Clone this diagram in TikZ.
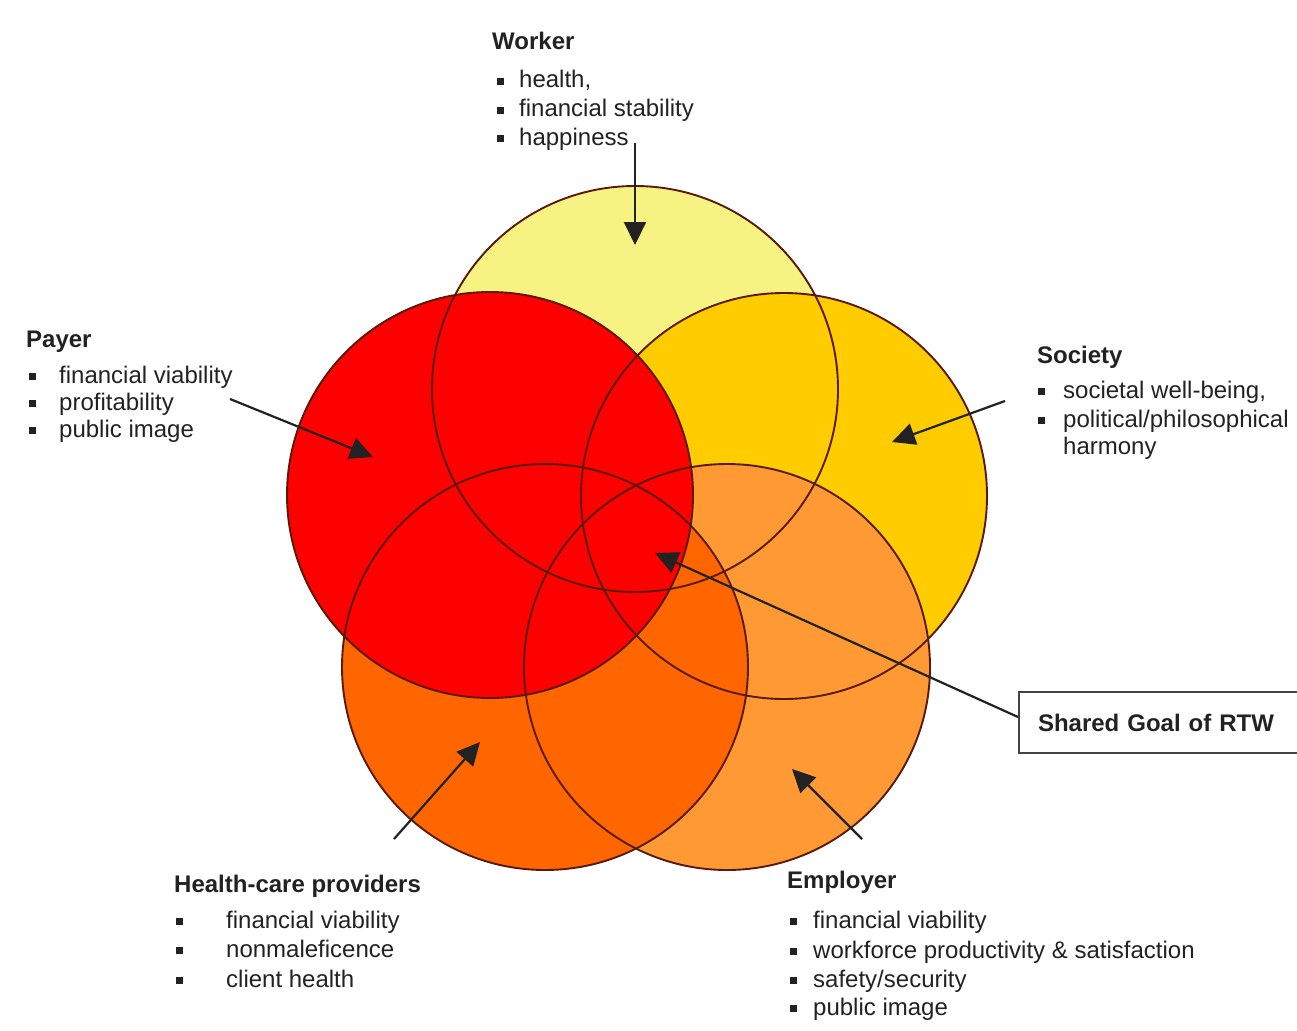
\documentclass[tikz,border=0pt]{standalone}
\usepackage{fontspec}
\setmainfont{Liberation Sans}
\usetikzlibrary{arrows.meta}
\definecolor{cworker}{HTML}{F7F383}
\definecolor{csociety}{HTML}{FFCC00}
\definecolor{cemployer}{HTML}{FF9933}
\definecolor{chealth}{HTML}{FF6600}
\definecolor{cpayer}{HTML}{FF0000}
\definecolor{cedge}{HTML}{5A1A0A}
\definecolor{ctext}{HTML}{222222}
\newcommand{\bulsq}{\rule[3pt]{7pt}{7pt}}
\tikzset{
  lbl/.style={anchor=base west, inner sep=0pt, text=ctext, font=\fontsize{24}{29}\selectfont},
  ttl/.style={lbl, font=\fontsize{24}{29}\selectfont\bfseries},
  bul/.style={anchor=base west, inner sep=0pt, text=ctext, font=\fontsize{24}{29}\selectfont},
  ring/.style={draw=cedge, line width=1.9pt},
  pointer/.style={draw=ctext, line width=2.2pt, -{Triangle[length=23pt,width=22pt]}},
}
\begin{document}
\begin{tikzpicture}[x=1pt,y=-1pt]
\useasboundingbox (0,0) rectangle (1297,1030);
\fill[white] (0,0) rectangle (1297,1030);
% circle centres
\coordinate (cw) at (635,389);
\coordinate (cs) at (784,496);
\coordinate (ce) at (727,667);
\coordinate (ch) at (545,667);
\coordinate (cp) at (490,495);
% fills (layered)
\fill[cworker] (cw) circle (203pt);
\fill[csociety] (cs) circle (203pt);
\fill[cemployer] (ce) circle (203pt);
\fill[chealth] (ch) circle (203pt);
\fill[cpayer] (cp) circle (203pt);
% outlines
\draw[ring] (cw) circle (203pt);
\draw[ring] (cs) circle (203pt);
\draw[ring] (ce) circle (203pt);
\draw[ring] (ch) circle (203pt);
\draw[ring] (cp) circle (203pt);

% Worker
\node[ttl] (wt) at (492,50) {Worker};
\node[bul] (wb1) at (497,88) {\bulsq};
\node[bul] (wb2) at (497,117) {\bulsq};
\node[bul] (wb3) at (497,145) {\bulsq};
\node[lbl] (w1) at (519,88) {health,};
\node[lbl] (w2) at (519,117) {financial stability};
\node[lbl] (w3) at (519,145) {happiness};
\coordinate (wa) at (635,143);
\coordinate (wz) at (635,245);
\draw[pointer] (wa) -- (wz);

% Payer
\node[ttl] (pt) at (26,347) {Payer};
\node[bul] (pb1) at (29,383) {\bulsq};
\node[bul] (pb2) at (29,410) {\bulsq};
\node[bul] (pb3) at (29,437) {\bulsq};
\node[lbl] (p1) at (59,383) {financial viability};
\node[lbl] (p2) at (59,410) {profitability};
\node[lbl] (p3) at (59,437) {public image};
\coordinate (pa) at (230,399);
\coordinate (pz) at (373,457);
\draw[pointer] (pa) -- (pz);

% Society
\node[ttl] (st) at (1037,363) {Society};
\node[bul] (sb1) at (1038,398) {\bulsq};
\node[bul] (sb2) at (1038,427) {\bulsq};
\node[lbl] (s1) at (1063,398) {societal well-being,};
\node[lbl] (s2) at (1063,427) {political/philosophical};
\node[lbl] (s3) at (1063,454) {harmony};
\coordinate (sa) at (1005,401);
\coordinate (sz) at (892,442);
\draw[pointer] (sa) -- (sz);

% Shared goal
\node[draw=ctext!85, line width=2pt, fill=white, anchor=west, minimum height=61pt,
      text width=260pt, inner xsep=19pt, inner ysep=0pt, align=left,
      font=\fontsize{24}{29}\selectfont\bfseries, text=ctext] (goal) at (1018,722.5) {Shared Goal of RTW};
\coordinate (gz) at (655,553);
\draw[pointer] ([yshift=5.5pt]goal.west) -- (gz);

% Health-care providers
\node[ttl] (ht) at (174,892) {Health-care providers};
\node[bul] (hb1) at (176,928) {\bulsq};
\node[bul] (hb2) at (176,957) {\bulsq};
\node[bul] (hb3) at (176,987) {\bulsq};
\node[lbl] (h1) at (226,928) {financial viability};
\node[lbl] (h2) at (226,957) {nonmaleficence};
\node[lbl] (h3) at (226,987) {client health};
\coordinate (ha) at (394,839);
\coordinate (hz) at (480,742);
\draw[pointer] (ha) -- (hz);

% Employer
\node[ttl] (et) at (787,888) {Employer};
\node[bul] (eb1) at (790,928) {\bulsq};
\node[bul] (eb2) at (790,958) {\bulsq};
\node[bul] (eb3) at (790,987) {\bulsq};
\node[bul] (eb4) at (790,1015) {\bulsq};
\node[lbl] (e1) at (813,928) {financial viability};
\node[lbl] (e2) at (813,958) {workforce productivity \& satisfaction};
\node[lbl] (e3) at (813,987) {safety/security};
\node[lbl] (e4) at (813,1015) {public image};
\coordinate (ea) at (862,839);
\coordinate (ez) at (792,769);
\draw[pointer] (ea) -- (ez);
\end{tikzpicture}
\end{document}
